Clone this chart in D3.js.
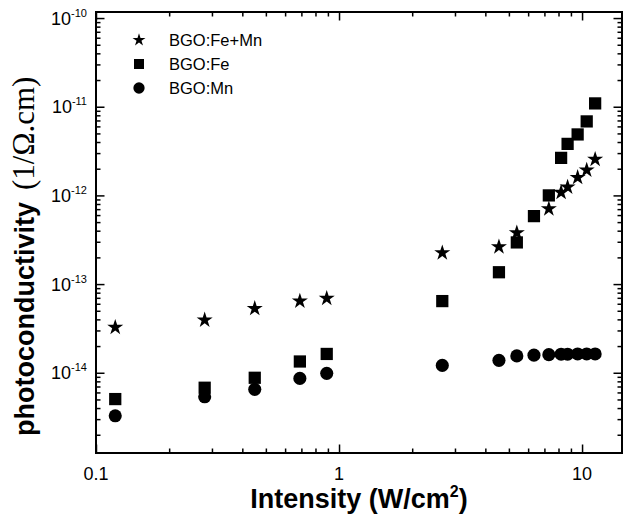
<!DOCTYPE html>
<html>
<head>
<meta charset="utf-8">
<script src="https://cdn.jsdelivr.net/npm/d3@7"></script>
<style>
  body { margin: 0; background: #fff; }
  text { font-family: "Liberation Sans", Arial, sans-serif; fill: #000; }
</style>
</head>
<body>
<div id="chart"></div>
<script>
// values
const intensity = [0.12, 0.28, 0.45, 0.69, 0.89, 2.66, 4.55, 5.39, 6.34, 7.30, 8.20, 8.72, 9.59, 10.45, 11.32];
const feMn = [3.25e-14, 3.93e-14, 5.3e-14, 6.43e-14, 6.9e-14, 2.25e-13, 2.63e-13, 3.78e-13, null, 7.05e-13, 1.08e-12, 1.24e-12, 1.59e-12, 1.93e-12, 2.55e-12];
const fe = [5.05e-15, 6.78e-15, 8.78e-15, 1.34e-14, 1.63e-14, 6.43e-14, 1.36e-13, 2.95e-13, 5.84e-13, 1.0e-12, 2.65e-12, 3.81e-12, 4.87e-12, 6.83e-12, 1.09e-11];
const mn = [3.27e-15, 5.36e-15, 6.5e-15, 8.64e-15, 9.85e-15, 1.21e-14, 1.38e-14, 1.55e-14, 1.58e-14, 1.6e-14, 1.62e-14, 1.62e-14, 1.63e-14, 1.63e-14, 1.63e-14];

const seriesNames = ["BGO:Fe+Mn", "BGO:Fe", "BGO:Mn"];
const xMajor = [0.1, 1, 10];
const xLabels = ["0.1", "1", "10"];
const yMajor = [1e-14, 1e-13, 1e-12, 1e-11, 1e-10];
const yExponents = ["-14", "-13", "-12", "-11", "-10"];

const width = 624, height = 517;
const plotLeft = 96, plotRight = 622, plotTop = 12, plotBottom = 453;

const x = d3.scaleLog().domain([0.1, 14.6]).range([plotLeft, plotRight]);
const y = d3.scaleLog().domain([1.245e-15, 1.17e-10]).range([plotBottom, plotTop]);

const svg = d3.select("#chart")
    .append("svg")
    .attr("width", width)
    .attr("height", height);

svg.append("rect")
    .attr("width", width)
    .attr("height", height)
    .attr("fill", "#fff");

const isMajor = d => Math.abs(Math.log10(d) - Math.round(Math.log10(d))) < 1e-6;
const xMinor = x.ticks().filter(d => !isMajor(d));
const yMinor = y.ticks().filter(d => !isMajor(d));

// minor + major ticks on all four sides, pointing inward
function addAxis(axis, transform, values, size) {
    svg.append("g")
        .attr("transform", transform)
        .call(axis.tickValues(values).tickSizeInner(-size).tickSizeOuter(0).tickFormat(""))
        .call(g => g.select(".domain").remove())
        .call(g => g.selectAll("line").attr("stroke", "#000").attr("stroke-width", 1.5));
}
addAxis(d3.axisBottom(x), `translate(0,${plotBottom})`, xMinor, 4.5);
addAxis(d3.axisBottom(x), `translate(0,${plotBottom})`, xMajor, 8.5);
addAxis(d3.axisTop(x), `translate(0,${plotTop})`, xMinor, 4.5);
addAxis(d3.axisTop(x), `translate(0,${plotTop})`, xMajor, 8.5);
addAxis(d3.axisLeft(y), `translate(${plotLeft},0)`, yMinor, 4.5);
addAxis(d3.axisLeft(y), `translate(${plotLeft},0)`, yMajor, 8.5);
addAxis(d3.axisRight(y), `translate(${plotRight},0)`, yMinor, 4.5);
addAxis(d3.axisRight(y), `translate(${plotRight},0)`, yMajor, 8.5);

// frame
svg.append("rect")
    .attr("x", plotLeft)
    .attr("y", plotTop)
    .attr("width", plotRight - plotLeft)
    .attr("height", plotBottom - plotTop)
    .attr("fill", "none")
    .attr("stroke", "#000")
    .attr("stroke-width", 2);

// x tick labels
svg.append("g")
    .selectAll("text")
    .data(xMajor)
    .join("text")
    .attr("x", d => x(d))
    .attr("y", 480)
    .attr("text-anchor", "middle")
    .style("font-size", "18px")
    .text((d, i) => xLabels[i]);

// y tick labels 10^n
const yLab = svg.append("g")
    .selectAll("text")
    .data(yMajor)
    .join("text")
    .attr("x", 87)
    .attr("y", d => y(d) + 6.5)
    .attr("text-anchor", "end");
yLab.append("tspan")
    .style("font-size", "18px")
    .text("10");
yLab.append("tspan")
    .attr("dy", -8)
    .style("font-size", "11px")
    .text((d, i) => yExponents[i]);

// axis titles
const xTitle = svg.append("text")
    .attr("x", (plotLeft + plotRight) / 2)
    .attr("y", 508)
    .attr("text-anchor", "middle")
    .style("font-size", "27px")
    .style("font-weight", "bold");
xTitle.append("tspan").text("Intensity (W/cm");
xTitle.append("tspan").attr("dy", -11).style("font-size", "16px").text("2");
xTitle.append("tspan").attr("dy", 11).text(")");

const yTitle = svg.append("text")
    .attr("transform", "rotate(-90)")
    .attr("x", -436)
    .attr("y", 34);
yTitle.append("tspan")
    .style("font-size", "27px")
    .style("font-weight", "bold")
    .text("photoconductivity");
yTitle.append("tspan")
    .attr("dx", 12)
    .style("font-family", "'Liberation Serif', 'Times New Roman', serif")
    .style("font-size", "31px")
    .text("(1/Ω.cm)");

// markers
const star = d3.symbol(d3.symbolStar, 80);
const square = d3.symbol(d3.symbolSquare, 150);
const circle = d3.symbol(d3.symbolCircle, 135);

const pts = (vals) => intensity.map((v, i) => ({x: v, y: vals[i]})).filter(d => d.y != null);

svg.append("g")
    .selectAll("path")
    .data(pts(mn))
    .join("path")
    .attr("transform", d => `translate(${x(d.x)},${y(d.y)})`)
    .attr("d", circle)
    .attr("fill", "#000");

svg.append("g")
    .selectAll("path")
    .data(pts(feMn))
    .join("path")
    .attr("transform", d => `translate(${x(d.x)},${y(d.y)})`)
    .attr("d", star)
    .attr("fill", "#000");

svg.append("g")
    .selectAll("path")
    .data(pts(fe))
    .join("path")
    .attr("transform", d => `translate(${x(d.x)},${y(d.y)})`)
    .attr("d", square)
    .attr("fill", "#000");

// legend
const legendSymbols = [d3.symbol(d3.symbolStar, 52), d3.symbol(d3.symbolSquare, 100), d3.symbol(d3.symbolCircle, 100)];
const legend = svg.append("g")
    .selectAll("g")
    .data(seriesNames)
    .join("g")
    .attr("transform", (d, i) => `translate(139,${40 + i * 24})`);
legend.append("path")
    .attr("d", (d, i) => legendSymbols[i]())
    .attr("fill", "#000");
legend.append("text")
    .attr("x", 30)
    .attr("y", 6)
    .style("font-size", "16.5px")
    .text(d => d);
</script>
</body>
</html>
